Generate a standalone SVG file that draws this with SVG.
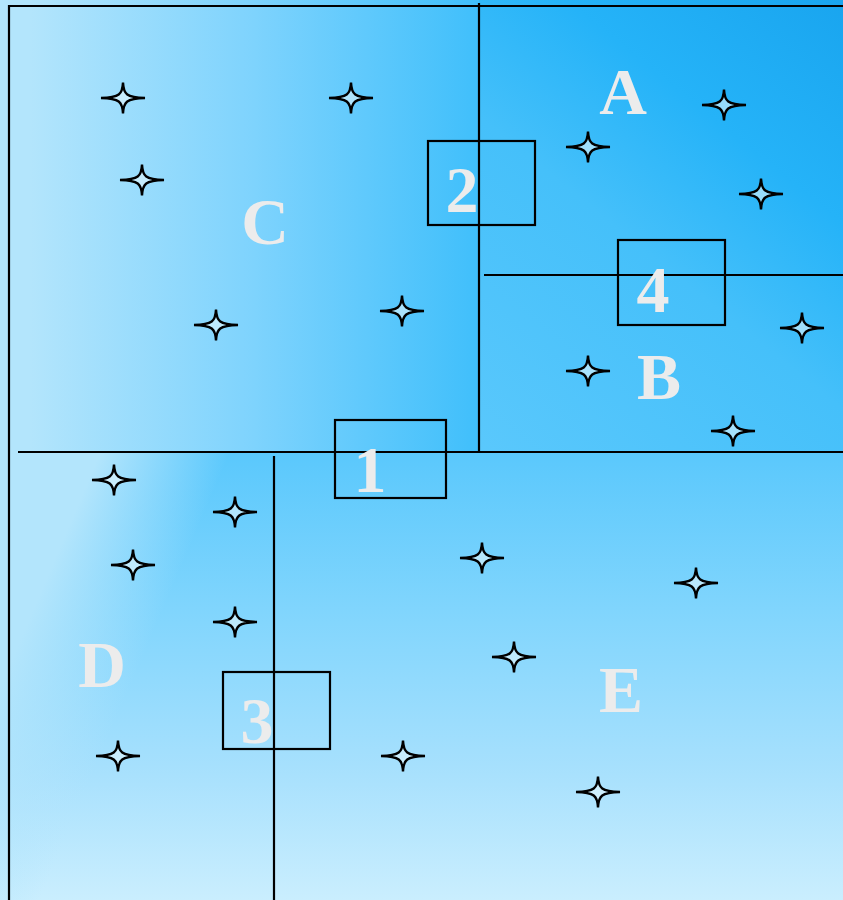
<svg xmlns="http://www.w3.org/2000/svg" xmlns:xlink="http://www.w3.org/1999/xlink" width="843" height="900" viewBox="0 0 843 900">
  <style>
    .ln { stroke: #000; stroke-width: 2.2; fill: none; }
    .box { stroke: #000; stroke-width: 2.2; fill: none; }
    .lbl { font-family: "Liberation Serif", "Times New Roman", serif; font-weight: bold; font-size: 66px; fill: #ececec; text-anchor: middle; }
    .star { stroke: #000; stroke-width: 2.4; fill: #e3f6fe; fill-opacity: 0.6; stroke-linejoin: miter; stroke-miterlimit: 10; }
  </style>
  <defs>
    <linearGradient id="gTopLeft" gradientUnits="userSpaceOnUse" x1="30" y1="0" x2="479" y2="0">
      <stop offset="0" stop-color="#b3e5fc"/>
      <stop offset="0.5" stop-color="#7ed3fd"/>
      <stop offset="1" stop-color="#40bffb"/>
    </linearGradient>
    <linearGradient id="gTopRight" gradientUnits="userSpaceOnUse" x1="843" y1="0" x2="479" y2="452">
      <stop offset="0" stop-color="#19a5ef"/>
      <stop offset="0.3" stop-color="#25b3f8"/>
      <stop offset="0.55" stop-color="#45c0fa"/>
      <stop offset="1" stop-color="#5ac8fc"/>
    </linearGradient>
    <linearGradient id="gBottom" gradientUnits="userSpaceOnUse" x1="0" y1="452" x2="0" y2="900">
      <stop offset="0" stop-color="#5ac8fc"/>
      <stop offset="0.35" stop-color="#80d5fd"/>
      <stop offset="0.7" stop-color="#a6e0fd"/>
      <stop offset="1" stop-color="#caeefe"/>
    </linearGradient>
    <linearGradient id="gLeftGlow" gradientUnits="userSpaceOnUse" x1="80" y1="500" x2="190" y2="547">
      <stop offset="0" stop-color="#b3e5fc" stop-opacity="1"/>
      <stop offset="1" stop-color="#b3e5fc" stop-opacity="0"/>
    </linearGradient>
    <path id="star" class="star" d="M0,-15.5 C0.6,-3.5 3.5,-0.6 22,0 C3.5,0.6 0.6,3.5 0,15.5 C-0.6,3.5 -3.5,0.6 -22,0 C-3.5,-0.6 -0.6,-3.5 0,-15.5 Z"/>
  </defs>

  <g id="background">
    <rect x="0" y="0" width="480" height="452" fill="url(#gTopLeft)"/>
    <rect x="479" y="0" width="364" height="452" fill="url(#gTopRight)"/>
    <rect x="0" y="452" width="843" height="448" fill="url(#gBottom)"/>
    <rect x="0" y="452" width="300" height="448" fill="url(#gLeftGlow)"/>
  </g>

  <g id="connectors">
    <line class="ln" x1="9" y1="6" x2="843" y2="6"/>
    <line class="ln" x1="9" y1="5" x2="9" y2="900"/>
    <line class="ln" x1="479" y1="3" x2="479" y2="452"/>
    <line class="ln" x1="18" y1="452" x2="843" y2="452"/>
    <line class="ln" x1="484" y1="275" x2="843" y2="275"/>
    <line class="ln" x1="274" y1="456" x2="274" y2="900"/>
  </g>

  <g id="stars">
    <use href="#star" xlink:href="#star" x="123" y="98"/>
    <use href="#star" xlink:href="#star" x="351" y="98"/>
    <use href="#star" xlink:href="#star" x="142" y="180"/>
    <use href="#star" xlink:href="#star" x="216" y="325"/>
    <use href="#star" xlink:href="#star" x="402" y="311"/>
    <use href="#star" xlink:href="#star" x="588" y="147"/>
    <use href="#star" xlink:href="#star" x="724" y="105"/>
    <use href="#star" xlink:href="#star" x="761" y="194"/>
    <use href="#star" xlink:href="#star" x="802" y="328"/>
    <use href="#star" xlink:href="#star" x="588" y="371"/>
    <use href="#star" xlink:href="#star" x="733" y="431"/>
    <use href="#star" xlink:href="#star" x="114" y="480"/>
    <use href="#star" xlink:href="#star" x="235" y="512"/>
    <use href="#star" xlink:href="#star" x="133" y="565"/>
    <use href="#star" xlink:href="#star" x="235" y="622"/>
    <use href="#star" xlink:href="#star" x="482" y="558"/>
    <use href="#star" xlink:href="#star" x="696" y="583"/>
    <use href="#star" xlink:href="#star" x="514" y="657"/>
    <use href="#star" xlink:href="#star" x="118" y="756"/>
    <use href="#star" xlink:href="#star" x="403" y="756"/>
    <use href="#star" xlink:href="#star" x="598" y="792"/>
  </g>

  <g id="box-1">
    <rect class="box" x="335" y="420" width="111" height="78"/>
    <text class="lbl" x="370" y="492">1</text>
  </g>
  <g id="box-2">
    <rect class="box" x="428" y="141" width="107" height="84"/>
    <text class="lbl" x="462" y="212">2</text>
  </g>
  <g id="box-3">
    <rect class="box" x="223" y="672" width="107" height="77"/>
    <text class="lbl" x="257" y="743">3</text>
  </g>
  <g id="box-4">
    <rect class="box" x="618" y="240" width="107" height="85"/>
    <text class="lbl" x="653" y="312">4</text>
  </g>

  <g id="region-A"><text class="lbl" x="623" y="114">A</text></g>
  <g id="region-B"><text class="lbl" x="659" y="399">B</text></g>
  <g id="region-C"><text class="lbl" x="265" y="244">C</text></g>
  <g id="region-D"><text class="lbl" x="102" y="687">D</text></g>
  <g id="region-E"><text class="lbl" x="621" y="712">E</text></g>
</svg>
